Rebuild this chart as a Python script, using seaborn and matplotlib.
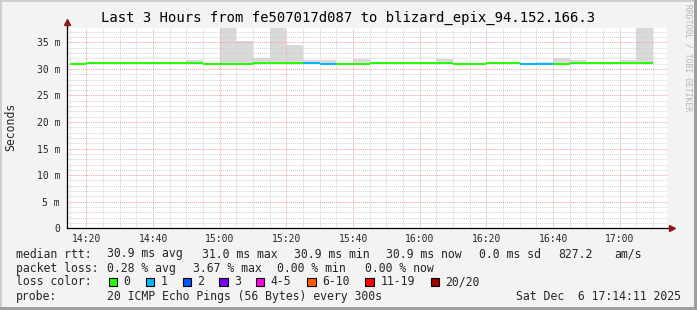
import matplotlib
matplotlib.use("Agg")
import numpy as np
import pandas as pd
import seaborn as sns
import matplotlib.pyplot as plt
from matplotlib.patches import Rectangle

# ---------------- data ----------------
bin_start = ["14:15", "14:20", "14:25", "14:30", "14:35", "14:40", "14:45", "14:50",
             "14:55", "15:00", "15:05", "15:10", "15:15", "15:20", "15:25", "15:30",
             "15:35", "15:40", "15:45", "15:50", "15:55", "16:00", "16:05", "16:10",
             "16:15", "16:20", "16:25", "16:30", "16:35", "16:40", "16:45", "16:50",
             "16:55", "17:00", "17:05"]
median_ms = [30.85, 31.05, 31.05, 31.05, 31.05, 31.05, 31.05, 31.05,
             30.85, 30.85, 30.85, 31.05, 31.05, 31.05, 31.05, 30.85,
             30.85, 30.85, 31.05, 31.05, 31.05, 31.05, 31.05, 30.85,
             30.85, 31.05, 31.05, 30.85, 30.85, 30.85, 31.05, 31.05,
             31.05, 31.05, 31.05]
smoke_top_ms = [np.nan, np.nan, np.nan, np.nan, np.nan, np.nan, np.nan, 31.6,
                np.nan, 45.0, 35.2, 32.0, 45.0, 34.6, 31.6, 31.6,
                np.nan, 31.8, 31.4, 31.3, np.nan, np.nan, 31.8, np.nan,
                np.nan, np.nan, np.nan, np.nan, 31.4, 32.0, 31.6, np.nan,
                np.nan, 31.6, 45.0]
loss_count = [0, 0, 0, 0, 0, 0, 0, 0,
              0, 0, 0, 0, 0, 0, 1, 1,
              0, 0, 0, 0, 0, 0, 0, 0,
              0, 0, 0, 1, 1, 0, 0, 0,
              0, 0, 0]

loss_labels = ["0", "1", "2", "3", "4-5", "6-10", "11-19", "20/20"]
loss_colors = ["#26ff00", "#00b8ff", "#0059ff", "#7e00ff", "#ff00ea", "#ff5e00", "#ff0000", "#a10000"]

x_tick_labels = ["14:20", "14:40", "15:00", "15:20", "15:40", "16:00", "16:20", "16:40", "17:00"]
y_tick_values = [0, 5, 10, 15, 20, 25, 30, 35]

title = "Last 3 Hours from fe507017d087 to blizard_epix_94.152.166.3"
stats_rows = [
    ("median rtt:", [("30.9 ms avg", 107.3), ("31.0 ms max", 202), ("30.9 ms min", 294),
                     ("30.9 ms now", 386), ("0.0 ms sd", 479), ("827.2", 558.3), ("am/s", 614)]),
    ("packet loss:", [("0.28 % avg", 107.3), ("3.67 % max", 193.3), ("0.00 % min", 276.7),
                      ("0.00 % now", 365)]),
]
probe_text = "20 ICMP Echo Pings (56 Bytes) every 300s"
stamp_text = "Sat Dec  6 17:14:11 2025"

# ---------------- helpers ----------------
def to_min(s):
    h, m = s.split(":")
    return (int(h) - 14) * 60 + int(m)

df = pd.DataFrame({
    "start": [to_min(s) for s in bin_start],
    "median": median_ms,
    "top": smoke_top_ms,
    "loss": loss_count,
})
def loss_color(n):
    if n <= 3:
        return loss_colors[n]
    if n <= 5:
        return loss_colors[4]
    if n <= 10:
        return loss_colors[5]
    if n <= 19:
        return loss_colors[6]
    return loss_colors[7]
df["color"] = df["loss"].map(loss_color)

W, H = 697, 310
sns.set_style("white")
plt.rcParams["font.family"] = ["DejaVu Sans Mono"]
fig = plt.figure(figsize=(W / 100, H / 100), dpi=100, facecolor="#f3f3f3")

def fx(px):
    return px / W

def fy(py):
    return 1 - py / H

left, right, top, bottom = 67, 667, 28.3, 228.3
ax = fig.add_axes([fx(left), fy(bottom), (right - left) / W, (bottom - top) / H])
ax.set_facecolor("white")

x0 = 14 + 11 / 60
ax.set_xlim(x0, x0 + 180)
ax.set_ylim(0, 37.65)

# smoke
sm = df.dropna(subset=["top"])
ax.bar(sm["start"], sm["top"] - sm["median"], bottom=sm["median"], width=5, align="edge",
       color="#d9d9d9", linewidth=0, zorder=1)
# median bands coloured by loss
band = 0.18
ax.bar(df["start"], 2 * band, bottom=df["median"] - band, width=5, align="edge",
       color=df["color"], linewidth=0, zorder=3)

# grid
ax.set_xticks([to_min(t) for t in x_tick_labels])
ax.set_xticklabels(x_tick_labels)
ax.set_xticks([to_min(s) for s in bin_start] + [190], minor=True)
ax.set_yticks(y_tick_values)
ax.set_yticklabels(["0" if v == 0 else f"{v} m" for v in y_tick_values])
ax.set_yticks(np.arange(0, 38, 1), minor=True)
ax.set_axisbelow(False)
ax.grid(which="minor", color="#d2d2d2", linestyle=(0, (1, 1)), linewidth=0.7, zorder=2)
ax.grid(which="major", color="#f2a3a3", linestyle=(0, (1, 1)), linewidth=0.7, zorder=2.1)

ax.tick_params(axis="both", which="major", labelsize=7, length=3, width=0.7, color="#555555",
               direction="out", pad=2)
ax.tick_params(axis="both", which="minor", length=2, width=0.6, color="#777777", direction="out")
ax.tick_params(axis="x", pad=1)

for s in ["top", "right"]:
    ax.spines[s].set_visible(False)
for s in ["left", "bottom"]:
    ax.spines[s].set_color("#000000")
    ax.spines[s].set_linewidth(0.9)
    ax.spines[s].set_zorder(4)
ax.set_xlabel("")
ax.set_ylabel("")

# axis arrows
ax.plot([0, 0], [1, 1.025], transform=ax.transAxes, color="black", lw=0.9, clip_on=False, zorder=4)
ax.plot([0], [1.03], transform=ax.transAxes, marker="^", color="#8b1a1a", markersize=4.5,
        clip_on=False, zorder=5)
ax.plot([1, 1.005], [0, 0], transform=ax.transAxes, color="black", lw=0.9, clip_on=False, zorder=4)
ax.plot([1.008], [0], transform=ax.transAxes, marker=">", color="#8b1a1a", markersize=4.5,
        clip_on=False, zorder=5)

# texts
fig.text(fx(348.5), fy(18), title, ha="center", va="center", fontsize=10, color="#000000")
fig.text(fx(11), fy(126.5), "Seconds", rotation=90, ha="center", va="center", fontsize=8.3)
fig.text(fx(688), fy(4), "RRDTOOL / TOBI OETIKER", rotation=270, ha="center", va="top",
         fontsize=5.8, color="#b4b4b4")

fs = 8.3
row_y = [254, 268.3, 281.7, 296.3]
for (label, items), yy in zip(stats_rows, row_y[:2]):
    fig.text(fx(16), fy(yy), label, ha="left", va="center", fontsize=fs)
    for txt, xx in items:
        fig.text(fx(xx), fy(yy), txt, ha="left", va="center", fontsize=fs)

fig.text(fx(16), fy(row_y[2]), "loss color:", ha="left", va="center", fontsize=fs)
box_x = [108.7, 145.7, 182.7, 219, 255.7, 307.3, 365.3, 430.7]
lab_x = [123.3, 161, 196.7, 234.3, 270.7, 322.3, 380.7, 445.3]
for lbl, col, bx, lx in zip(loss_labels, loss_colors, box_x, lab_x):
    fig.patches.append(Rectangle((fx(bx), fy(row_y[2] + 4.5)), 8.5 / W, 8.5 / H,
                                 transform=fig.transFigure, facecolor=col,
                                 edgecolor="black", linewidth=0.8))
    fig.text(fx(lx), fy(row_y[2]), lbl, ha="left", va="center", fontsize=fs)

fig.text(fx(16), fy(row_y[3]), "probe:", ha="left", va="center", fontsize=fs)
fig.text(fx(107.3), fy(row_y[3]), probe_text, ha="left", va="center", fontsize=fs)
fig.text(fx(681), fy(row_y[3]), stamp_text, ha="right", va="center", fontsize=fs)

# 3D frame
fig.patches.append(Rectangle((0, fy(2)), 1, 2 / H, transform=fig.transFigure,
                             facecolor="#cfcfcf", linewidth=0))
fig.patches.append(Rectangle((0, 0), 2 / W, 1, transform=fig.transFigure,
                             facecolor="#cfcfcf", linewidth=0))
fig.patches.append(Rectangle((0, 0), 1, 3 / H, transform=fig.transFigure,
                             facecolor="#9e9e9e", linewidth=0))
fig.patches.append(Rectangle((fx(694), 0), 3 / W, 1, transform=fig.transFigure,
                             facecolor="#9e9e9e", linewidth=0))

fig.savefig("out.png", dpi=100, facecolor=fig.get_facecolor())
